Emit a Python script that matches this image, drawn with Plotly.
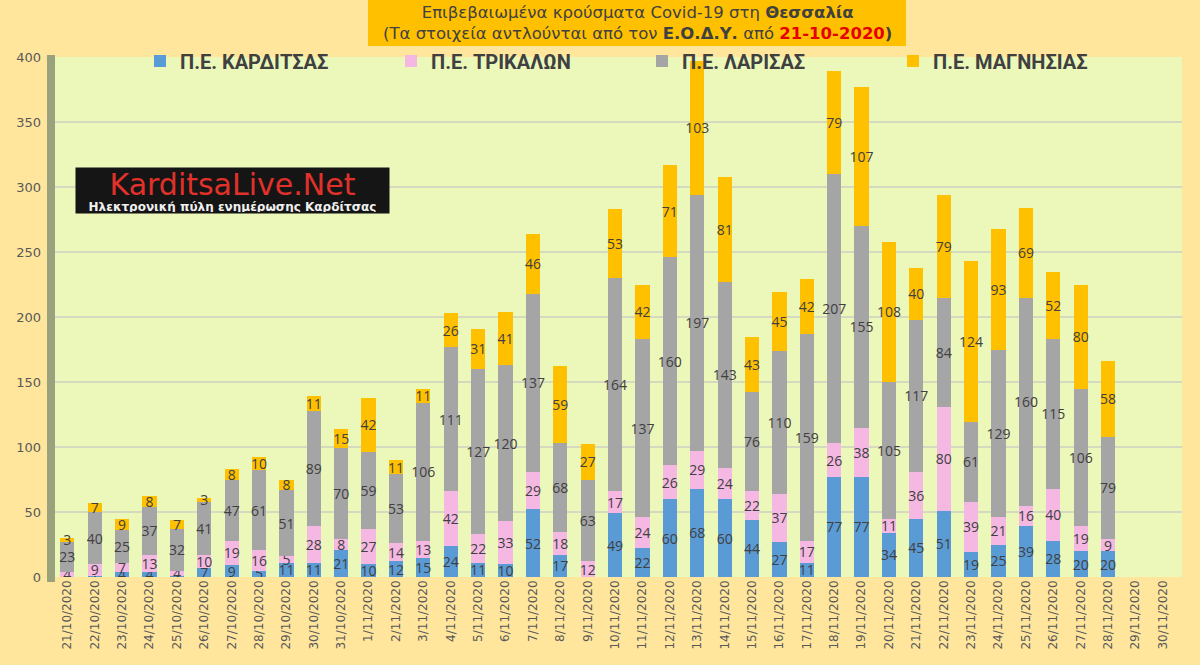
import plotly.graph_objects as go

# === data ===
dates = ['21/10/2020', '22/10/2020', '23/10/2020', '24/10/2020', '25/10/2020',
         '26/10/2020', '27/10/2020', '28/10/2020', '29/10/2020', '30/10/2020',
         '31/10/2020', '1/11/2020', '2/11/2020', '3/11/2020', '4/11/2020',
         '5/11/2020', '6/11/2020', '7/11/2020', '8/11/2020', '9/11/2020',
         '10/11/2020', '11/11/2020', '12/11/2020', '13/11/2020', '14/11/2020',
         '15/11/2020', '16/11/2020', '17/11/2020', '18/11/2020', '19/11/2020',
         '20/11/2020', '21/11/2020', '22/11/2020', '23/11/2020', '24/11/2020',
         '25/11/2020', '26/11/2020', '27/11/2020', '28/11/2020', '29/11/2020',
         '30/11/2020']

karditsa = [0, 1, 4, 4, 1, 7, 9, 5, 11, 11, 21, 10, 12, 15, 24, 11, 10, 52, 17, 0,
            49, 22, 60, 68, 60, 44, 27, 11, 77, 77, 34, 45, 51, 19, 25, 39, 28, 20, 20,
            None, None]
trikala = [4, 9, 7, 13, 4, 10, 19, 16, 5, 28, 8, 27, 14, 13, 42, 22, 33, 29, 18, 12,
           17, 24, 26, 29, 24, 22, 37, 17, 26, 38, 11, 36, 80, 39, 21, 16, 40, 19, 9,
           None, None]
larisa = [23, 40, 25, 37, 32, 41, 47, 61, 51, 89, 70, 59, 53, 106, 111, 127, 120, 137, 68, 63,
          164, 137, 160, 197, 143, 76, 110, 159, 207, 155, 105, 117, 84, 61, 129, 160, 115, 106, 79,
          None, None]
magnisia = [3, 7, 9, 8, 7, 3, 8, 10, 8, 11, 15, 42, 11, 11, 26, 31, 41, 46, 59, 27,
            53, 42, 71, 103, 81, 43, 45, 42, 79, 107, 108, 40, 79, 124, 93, 69, 52, 80, 58,
            None, None]

series = [
    ('Π.Ε. ΚΑΡΔΙΤΣΑΣ', karditsa, '#5B9BD5'),
    ('Π.Ε. ΤΡΙΚΑΛΩΝ', trikala, '#F5B8E2'),
    ('Π.Ε. ΛΑΡΙΣΑΣ', larisa, '#A5A5A5'),
    ('Π.Ε. ΜΑΓΝΗΣΙΑΣ', magnisia, '#FFC000'),
]

txt_color = '#404040'

fig = go.Figure()
for name, vals, color in series:
    fig.add_trace(go.Bar(
        x=dates, y=vals, name=name,
        marker=dict(color=color, line=dict(width=0)),
        text=[('' if v is None else str(v)) for v in vals],
        textposition='inside', insidetextanchor='middle', textangle=0,
        textfont=dict(size=14, color=txt_color, family='Open Sans'),
        constraintext='none',
    ))

# plot area in pixels (left 55, right 1182, top 57, bottom 577)
W, H = 1127, 520

def px(x):
    return (x - 55) / W

def py(y):
    return (577 - y) / H

shapes = [
    # orange title box
    dict(type='rect', xref='paper', yref='paper', x0=px(368), x1=px(906), y0=py(46), y1=py(0),
         fillcolor='#FFC000', line=dict(width=0), layer='below'),
    # 3D side wall
    dict(type='rect', xref='paper', yref='paper', x0=px(47), x1=px(55), y0=py(582), y1=py(55),
         fillcolor='#99A27C', line=dict(width=0)),
]

annotations = [
    dict(xref='paper', yref='paper', x=px(637), y=py(23), xanchor='center', yanchor='middle',
         showarrow=False, align='center',
         font=dict(family='DejaVu Sans', size=16.5, color=txt_color),
         text="Επιβεβαιωμένα κρούσματα Covid-19 στη <b>Θεσσαλία</b><br>"
              "(Τα στοιχεία αντλούνται από τον <b>Ε.Ο.Δ.Υ.</b> από "
              "<b><span style='color:#E60000'>21-10-2020</span>)</b>"),
    # site logo
    dict(xref='paper', yref='paper', x=px(75), y=py(167), xanchor='left', yanchor='top',
         showarrow=False, align='center', bgcolor='#151515', borderpad=1,
         width=311, height=43,
         text="<span style='font-size:30px;color:#E0312A'>KarditsaLive.Net</span><br>"
              "<span style='font-size:12px;color:#F0F0F0'><b>Ηλεκτρονική πύλη ενημέρωσης Καρδίτσας</b></span>",
         font=dict(family='DejaVu Sans')),
]

fig.update_layout(
    barmode='stack',
    bargap=0.48,
    width=1200, height=665,
    paper_bgcolor='#FFE69C',
    plot_bgcolor='#ECF7BA',
    margin=dict(l=55, r=18, t=57, b=88, autoexpand=False),
    uniformtext=dict(minsize=14, mode='show'),
    shapes=shapes,
    annotations=annotations,
    legend=dict(orientation='h', x=px(140), y=py(61), xanchor='left', yanchor='middle',
                entrywidth=206, entrywidthmode='pixels', bgcolor='rgba(0,0,0,0)',
                font=dict(family='Roboto', size=20, color=txt_color, weight='bold'),
                itemsizing='constant', traceorder='normal'),
    xaxis=dict(type='category', tickangle=-90, showgrid=False, ticks='',
               range=[-0.45, 40.7], automargin=False,
               tickfont=dict(family='DejaVu Sans', size=12, color='#595959'),
               showline=False, zeroline=False),
    yaxis=dict(range=[0, 400], dtick=50, showgrid=True, gridcolor='#D5D9C0', gridwidth=1.5,
               tickfont=dict(family='DejaVu Sans', size=13, color='#595959'),
               ticklabelstandoff=13, zeroline=False, automargin=False),
    showlegend=True,
)

# drop the page's default body margin so the figure sits at the top-left corner
fig.write_html("out.html", config={'displayModeBar': False},
               post_script="document.body.style.margin='0';")
